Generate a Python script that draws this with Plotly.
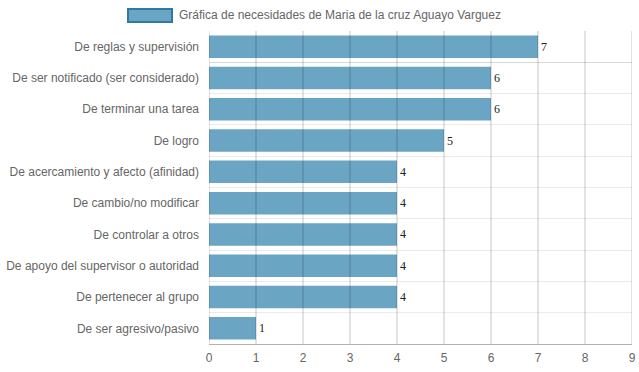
import plotly.graph_objects as go

categories = [
    "De reglas y supervisión",
    "De ser notificado (ser considerado)",
    "De terminar una tarea",
    "De logro",
    "De acercamiento y afecto (afinidad)",
    "De cambio/no modificar",
    "De controlar a otros",
    "De apoyo del supervisor o autoridad",
    "De pertenecer al grupo",
    "De ser agresivo/pasivo",
]
values = [7, 6, 6, 5, 4, 4, 4, 4, 4, 1]
x_ticks = [0, 1, 2, 3, 4, 5, 6, 7, 8, 9]
series_name = "Gráfica de necesidades de Maria de la cruz Aguayo Varguez"

fig = go.Figure()
fig.add_trace(go.Bar(
    y=categories, x=values, orientation="h",
    marker=dict(color="#6ba5c4", line=dict(width=0)),
    text=[str(v) for v in values], textposition="outside",
    textfont=dict(family="Liberation Serif", size=12, color="#222"),
    cliponaxis=False, showlegend=False, name=series_name,
))

fig.update_layout(
    width=639, height=372,
    margin=dict(l=209, r=7, t=31, b=28, autoexpand=False),
    paper_bgcolor="white", plot_bgcolor="white",
    bargap=0.28,
    font=dict(family="Liberation Sans", size=12, color="#666"),
    xaxis=dict(range=[0, 9], tickvals=x_ticks, showgrid=False,
               zeroline=False, showline=True, linecolor="rgba(0,0,0,0.3)",
               ticks="", ticklen=0, automargin=False, ticklabelstandoff=3,
               tickfont=dict(size=12, color="#666")),
    yaxis=dict(autorange="reversed", tickson="boundaries", showgrid=True,
               gridcolor="rgba(0,0,0,0.08)", gridwidth=1, ticks="",
               showline=False, automargin=False, ticklabelstandoff=9,
               tickfont=dict(size=12, color="#666")),
)

for xv in x_ticks:
    fig.add_shape(type="line", xref="x", yref="paper", x0=xv, x1=xv,
                  y0=0, y1=1, layer="above",
                  line=dict(color="rgba(0,0,0,0.22)", width=1))

fig.add_shape(type="rect", xref="paper", yref="paper",
              x0=(128 - 209) / 423, x1=(172 - 209) / 423,
              y0=(344 - 22) / 313, y1=(344 - 9) / 313,
              fillcolor="#6ba5c4", line=dict(color="#2f7aa3", width=2))
fig.add_annotation(xref="paper", yref="paper", x=(177 - 209) / 423,
                   y=(344 - 15) / 313, text=series_name, showarrow=False,
                   xanchor="left", yanchor="middle",
                   font=dict(family="Liberation Sans", size=12, color="#666"))

fig.write_html("out.html", config={"displayModeBar": False},
               post_script="document.body.style.margin='0';")
